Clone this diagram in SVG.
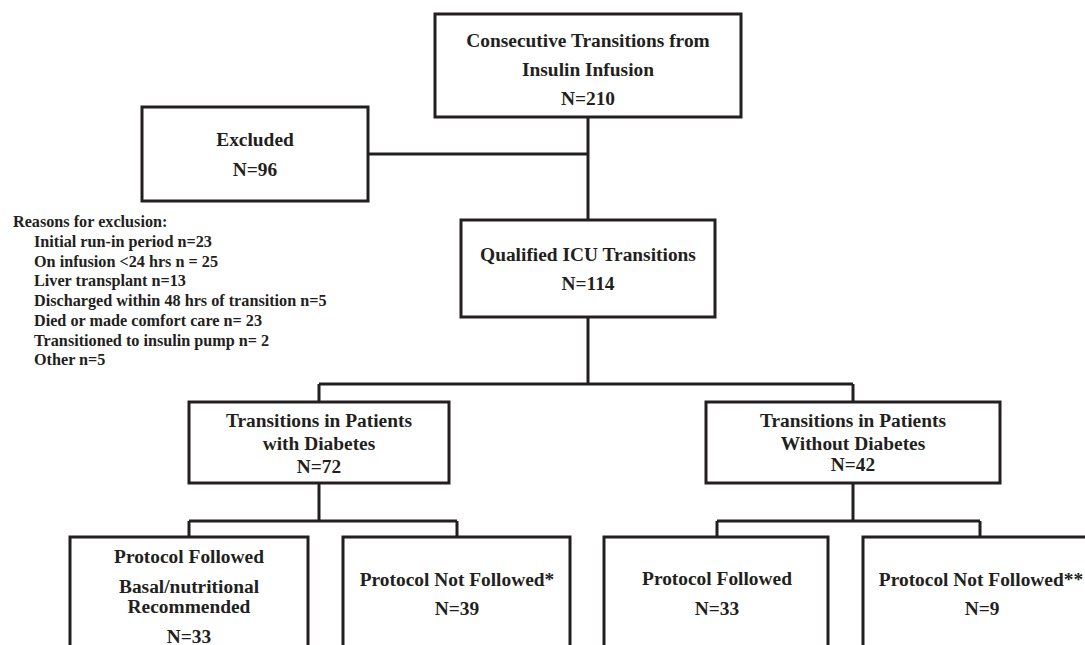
<svg xmlns="http://www.w3.org/2000/svg" width="1085" height="645" viewBox="0 0 1085 645">
<style>
.box{fill:#ffffff;stroke:#231f20;stroke-width:3}
.ln{fill:none;stroke:#231f20;stroke-width:3}
text{font-family:"Liberation Serif","Times New Roman",serif;font-weight:bold;fill:#231f20}
.c{font-size:19.4px;text-anchor:middle}
.r{font-size:16.2px}
</style>
<rect width="1085" height="645" fill="#ffffff"/>
<g id="connectors">
<path class="ln" d="M588 117 V220"/>
<path class="ln" d="M368 154 H588"/>
<path class="ln" d="M588 317 V384 M319 384 H853 M319 384 V402 M853 384 V402"/>
<path class="ln" d="M319 483 V521 M189 521 H457 M189 521 V537 M457 521 V537"/>
<path class="ln" d="M853 483 V521 M717 521 H980 M717 521 V537 M980 521 V537"/>
</g>
<g id="n_top">
<rect class="box" x="435" y="14" width="306" height="103"/>
<text class="c" x="588" y="47">Consecutive Transitions from</text>
<text class="c" x="588" y="76">Insulin Infusion</text>
<text class="c" x="588" y="105">N=210</text>
</g>
<g id="n_excluded">
<rect class="box" x="142" y="107" width="226" height="94"/>
<text class="c" x="255" y="146">Excluded</text>
<text class="c" x="255" y="176">N=96</text>
</g>
<g id="n_reasons">
<text class="r" x="13" y="227">Reasons for exclusion:</text>
<text class="r" x="34" y="247">Initial run-in period n=23</text>
<text class="r" x="34" y="267">On infusion &lt;24 hrs n = 25</text>
<text class="r" x="34" y="286">Liver transplant n=13</text>
<text class="r" x="34" y="306">Discharged within 48 hrs of transition n=5</text>
<text class="r" x="34" y="326">Died or made comfort care n= 23</text>
<text class="r" x="34" y="346">Transitioned to insulin pump n= 2</text>
<text class="r" x="34" y="365">Other n=5</text>
</g>
<g id="n_qualified">
<rect class="box" x="461" y="220" width="254" height="97"/>
<text class="c" x="588" y="261">Qualified ICU Transitions</text>
<text class="c" x="588" y="290">N=114</text>
</g>
<g id="n_diab">
<rect class="box" x="189" y="402" width="260" height="81"/>
<text class="c" x="319" y="427">Transitions in Patients</text>
<text class="c" x="319" y="450">with Diabetes</text>
<text class="c" x="319" y="473">N=72</text>
</g>
<g id="n_nodiab">
<rect class="box" x="706" y="402" width="294" height="81"/>
<text class="c" x="853" y="427">Transitions in Patients</text>
<text class="c" x="853" y="450">Without Diabetes</text>
<text class="c" x="853" y="471">N=42</text>
</g>
<g id="n_d_followed">
<rect class="box" x="70" y="537" width="238" height="140"/>
<text class="c" x="189" y="563">Protocol Followed</text>
<text class="c" x="189" y="593">Basal/nutritional</text>
<text class="c" x="189" y="613">Recommended</text>
<text class="c" x="189" y="643">N=33</text>
</g>
<g id="n_d_notfollowed">
<rect class="box" x="343" y="537" width="227" height="140"/>
<text class="c" x="457" y="586">Protocol Not Followed*</text>
<text class="c" x="457" y="615">N=39</text>
</g>
<g id="n_nd_followed">
<rect class="box" x="604" y="537" width="224" height="140"/>
<text class="c" x="717" y="585">Protocol Followed</text>
<text class="c" x="717" y="615">N=33</text>
</g>
<g id="n_nd_notfollowed">
<rect class="box" x="863" y="537" width="260" height="140"/>
<text class="c" x="981" y="586">Protocol Not Followed**</text>
<text class="c" x="982" y="615">N=9</text>
</g>
</svg>
